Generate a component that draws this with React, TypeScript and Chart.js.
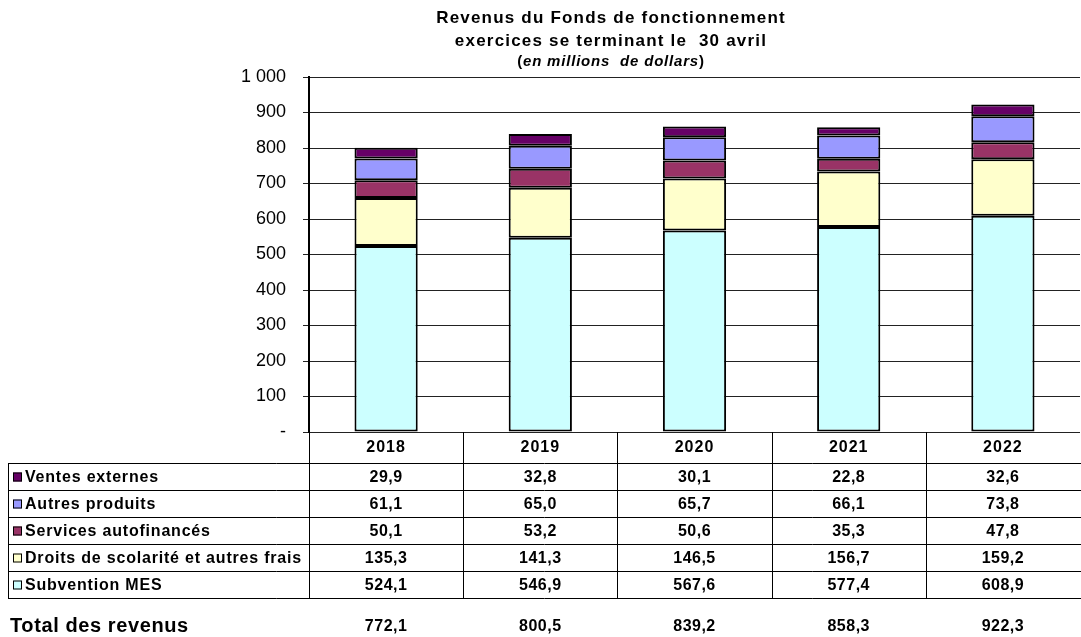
import React, { useEffect, useRef } from 'react';
import { Chart, registerables } from 'chart.js';

Chart.register(...registerables);

const years = ['2018', '2019', '2020', '2021', '2022'];
const subventionMES = [524.1, 546.9, 567.6, 577.4, 608.9];
const droitsScolarite = [135.3, 141.3, 146.5, 156.7, 159.2];
const servicesAutofinances = [50.1, 53.2, 50.6, 35.3, 47.8];
const autresProduits = [61.1, 65.0, 65.7, 66.1, 73.8];
const ventesExternes = [29.9, 32.8, 30.1, 22.8, 32.6];
const totalRevenus = ['772,1', '800,5', '839,2', '858,3', '922,3'];

const titleLines = ['Revenus du Fonds de fonctionnement', 'exercices se terminant le  30 avril'];
const subtitleItalic = 'en millions  de dollars';
const totalLabel = 'Total des revenus';

const FONT = '"Liberation Sans", Arial, sans-serif';

const series = [
  { label: 'Subvention MES', data: subventionMES, color: '#CCFFFF' },
  { label: 'Droits de scolarité et autres frais', data: droitsScolarite, color: '#FFFFCC' },
  { label: 'Services autofinancés', data: servicesAutofinances, color: '#993366' },
  { label: 'Autres produits', data: autresProduits, color: '#9999FF' },
  { label: 'Ventes externes', data: ventesExternes, color: '#660066' },
];

const fmt = (v: number) => v.toFixed(1).replace('.', ',');

const setLS = (ctx: any, v: string) => {
  if ('letterSpacing' in ctx) ctx.letterSpacing = v;
};

const tablePlugin = {
  id: 'tablePlugin',
  afterDraw(chart: any) {
    const ctx = chart.ctx as CanvasRenderingContext2D;
    const area = chart.chartArea;
    const W = chart.width;
    ctx.save();
    // Title
    ctx.fillStyle = '#000';
    ctx.textAlign = 'center';
    ctx.textBaseline = 'middle';
    const cx = 611;
    setLS(ctx, '1.2px');
    ctx.font = `bold 17px ${FONT}`;
    ctx.fillText(titleLines[0], cx, 18);
    ctx.fillText(titleLines[1], cx, 41);
    setLS(ctx, '0.8px');
    ctx.font = `bold italic 15px ${FONT}`;
    const iw = ctx.measureText(subtitleItalic).width;
    ctx.font = `bold 15px ${FONT}`;
    const pw = ctx.measureText('(').width;
    const total = iw + 2 * pw;
    const x0 = cx - total / 2;
    ctx.textAlign = 'left';
    ctx.fillText('(', x0, 62);
    ctx.font = `bold italic 15px ${FONT}`;
    ctx.fillText(subtitleItalic, x0 + pw, 62);
    ctx.font = `bold 15px ${FONT}`;
    ctx.fillText(')', x0 + pw + iw, 62);

    // Table
    const left = area.left;
    const right = W;
    const top = area.bottom;
    const n = years.length;
    const colW = (area.right - area.left) / n;
    const headerBottom = top + 31;
    const rowH = 27;
    const rows = [...series].reverse();
    const tableBottom = headerBottom + rowH * rows.length;
    const labelLeft = 8;

    ctx.strokeStyle = '#000';
    ctx.lineWidth = 1;
    for (let i = 0; i < n; i++) {
      const x = Math.round(left + i * colW) + 0.5;
      ctx.beginPath();
      ctx.moveTo(x, top);
      ctx.lineTo(x, tableBottom);
      ctx.stroke();
    }
    ctx.beginPath();
    ctx.moveTo(labelLeft + 0.5, headerBottom);
    ctx.lineTo(labelLeft + 0.5, tableBottom);
    ctx.stroke();
    for (let r = 0; r <= rows.length; r++) {
      const y = headerBottom + r * rowH + 0.5;
      ctx.beginPath();
      ctx.moveTo(labelLeft, y);
      ctx.lineTo(right, y);
      ctx.stroke();
    }

    // header years
    ctx.textAlign = 'center';
    ctx.textBaseline = 'middle';
    setLS(ctx, '1px');
    ctx.font = `bold 16px ${FONT}`;
    for (let i = 0; i < n; i++) {
      ctx.fillText(years[i], left + (i + 0.5) * colW, top + 16);
    }
    rows.forEach((s, r) => {
      const yc = headerBottom + r * rowH + rowH / 2 + 1;
      ctx.fillStyle = s.color;
      ctx.fillRect(13, yc - 5, 9, 9);
      ctx.strokeStyle = '#000';
      ctx.strokeRect(13.5, yc - 4.5, 8, 8);
      ctx.fillStyle = '#000';
      ctx.textAlign = 'left';
      setLS(ctx, '0.8px');
      ctx.font = `bold 16px ${FONT}`;
      ctx.fillText(s.label, 25, yc);
      ctx.textAlign = 'center';
      setLS(ctx, '0.5px');
      for (let i = 0; i < n; i++) {
        ctx.fillText(fmt(s.data[i]), left + (i + 0.5) * colW, yc);
      }
    });
    // total row
    const ty = 626;
    ctx.textAlign = 'left';
    setLS(ctx, '0.6px');
    ctx.font = `bold 20px ${FONT}`;
    ctx.fillText(totalLabel, 10, ty);
    ctx.textAlign = 'center';
    setLS(ctx, '0.5px');
    ctx.font = `bold 16px ${FONT}`;
    for (let i = 0; i < n; i++) {
      ctx.fillText(totalRevenus[i], left + (i + 0.5) * colW, ty + 1);
    }
    ctx.restore();
  },
};

export default function App() {
  const ref = useRef<HTMLCanvasElement>(null);
  useEffect(() => {
    document.body.style.margin = '0';
    const chart = new Chart(ref.current!, {
      type: 'bar',
      data: {
        labels: years,
        datasets: series.map((s) => ({
          label: s.label,
          data: s.data,
          backgroundColor: s.color,
          borderColor: '#000',
          borderWidth: 2,
          borderSkipped: false,
          categoryPercentage: 1,
          barPercentage: 0.41,
        })),
      },
      options: {
        animation: false,
        responsive: false,
        layout: { padding: { top: 77, right: 1, left: 0, bottom: 0 } },
        plugins: {
          legend: { display: false },
          title: { display: false },
          tooltip: { enabled: false },
        },
        scales: {
          x: {
            stacked: true,
            grid: { display: false },
            border: { display: false },
            ticks: { display: false },
            afterFit: (scale: any) => {
              scale.height = 205;
            },
          },
          y: {
            stacked: true,
            min: 0,
            max: 1000,
            ticks: {
              stepSize: 100,
              color: '#000',
              padding: 17,
              font: { family: FONT, size: 18 },
              callback: (v: any) => (v === 0 ? '-' : v === 1000 ? '1 000' : String(v)),
            },
            grid: { color: '#222', lineWidth: 1, tickLength: 6 },
            border: { color: '#000', width: 2 },
            afterFit: (scale: any) => {
              scale.width = 309;
            },
          },
        },
      },
      plugins: [tablePlugin],
    });
    return () => chart.destroy();
  }, []);
  return <canvas ref={ref} width={1081} height={637} style={{ display: 'block' }} />;
}
